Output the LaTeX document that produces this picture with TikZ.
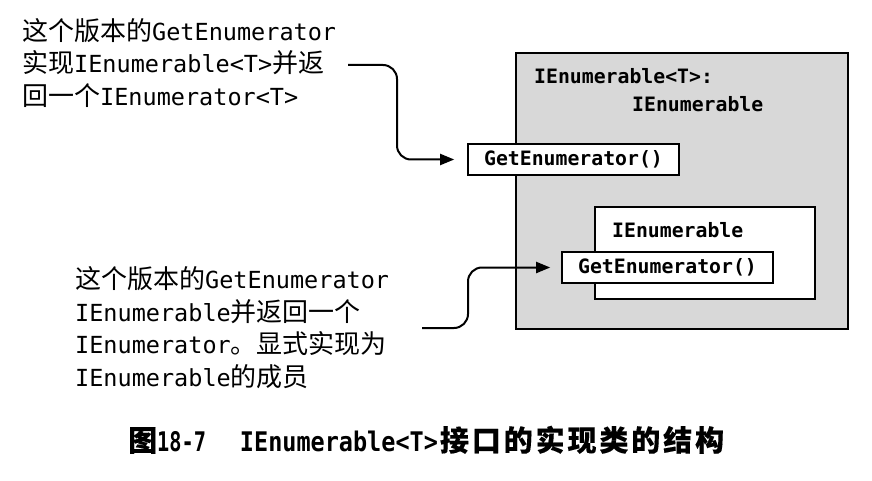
\documentclass[tikz,border=0pt]{standalone}
\usepackage{graphicx}
\usepackage{fontspec}
\setmainfont{DejaVu Sans Mono}
\newfontfamily\cjkf{Noto Sans CJK SC}
\newfontfamily\cjkcap[LetterSpace=10,FakeBold=0.2]{Noto Sans CJK SC}
\usetikzlibrary{arrows.meta}
\definecolor{boxgray}{RGB}{216,216,216}
\newcommand\zh[1]{{\cjkf\fontsize{26}{30}\selectfont #1}}
\newcommand\zhc[1]{{\cjkcap\fontsize{29}{34}\selectfont #1}}
\tikzset{
  txt/.style={anchor=base west, inner sep=0pt, font=\fontsize{23.5}{30}\selectfont},
  captxt/.style={anchor=base west, inner sep=0pt, font=\bfseries\fontsize{27}{32}\selectfont},
  lbl/.style={anchor=base west, inner sep=0pt, font=\bfseries\fontsize{19.8}{24}\selectfont},
  gebox/.style={draw, line width=1.6pt, fill=white, minimum width=211pt, minimum height=31pt, inner sep=0pt, font=\bfseries\fontsize{19.8}{24}\selectfont},
  arr/.style={line width=2pt, rounded corners=14pt, -{Triangle[length=14pt,width=11pt]}}
}
\begin{document}
\begin{tikzpicture}[x=1pt,y=-1pt]
\useasboundingbox (0,0) rectangle (872,481);
% outer class box
\node[draw, fill=boxgray, line width=2pt, minimum width=332pt, minimum height=276pt, anchor=north west, inner sep=0pt] (outer) at (515,52) {};
\node[lbl] (t1) at (534,84) {IEnumerable<T>:};
\node[lbl] (t2) at (632,112) {IEnumerable};
% inner IEnumerable box
\node[draw, fill=white, line width=1.6pt, minimum width=220pt, minimum height=92pt, anchor=north west, inner sep=0pt] (inner) at (594,206) {};
\node[lbl] (t3) at (612,237) {IEnumerable};
% GetEnumerator boxes
\node[gebox] (ge1) at (573.5,159.5) {GetEnumerator()};
\node[gebox] (ge2) at (667.5,267.5) {GetEnumerator()};
% top-left note
\node[txt] (n1a) at (22,40.5) {\zh{这个版本的}GetEnumerator};
\node[txt] (n1b) at (22,73) {\zh{实现}IEnumerable<T>\zh{并返}};
\node[txt] (n1c) at (22,105.5) {\zh{回一个}IEnumerator<T>};
% bottom-left note
\node[txt] (n2a) at (75,288.5) {\zh{这个版本的}GetEnumerator};
\node[txt] (n2b) at (75,321) {IEnumerable\zh{并返回一个}};
\node[txt] (n2c) at (75,353.5) {IEnumerator\zh{。显式实现为}};
\node[txt] (n2d) at (75,386) {IEnumerable\zh{的成员}};
% arrows
\coordinate (s1) at (348,65);
\coordinate (s2) at (422,328);
\draw[arr, shorten >=13pt] (s1) -- ++(49,0) |- (ge1.west);
\draw[arr, shorten >=11pt] (s2) -- ++(46,0) |- (ge2.west);
% caption
\node[captxt] (cap) at (128,451) {\zhc{图}\scalebox{0.75}[1]{18-7}\hspace{34pt}\scalebox{0.87}[1]{IEnumerable<T>}\hspace{2pt}\zhc{接口的实现类的结构}};
\end{tikzpicture}
\end{document}
